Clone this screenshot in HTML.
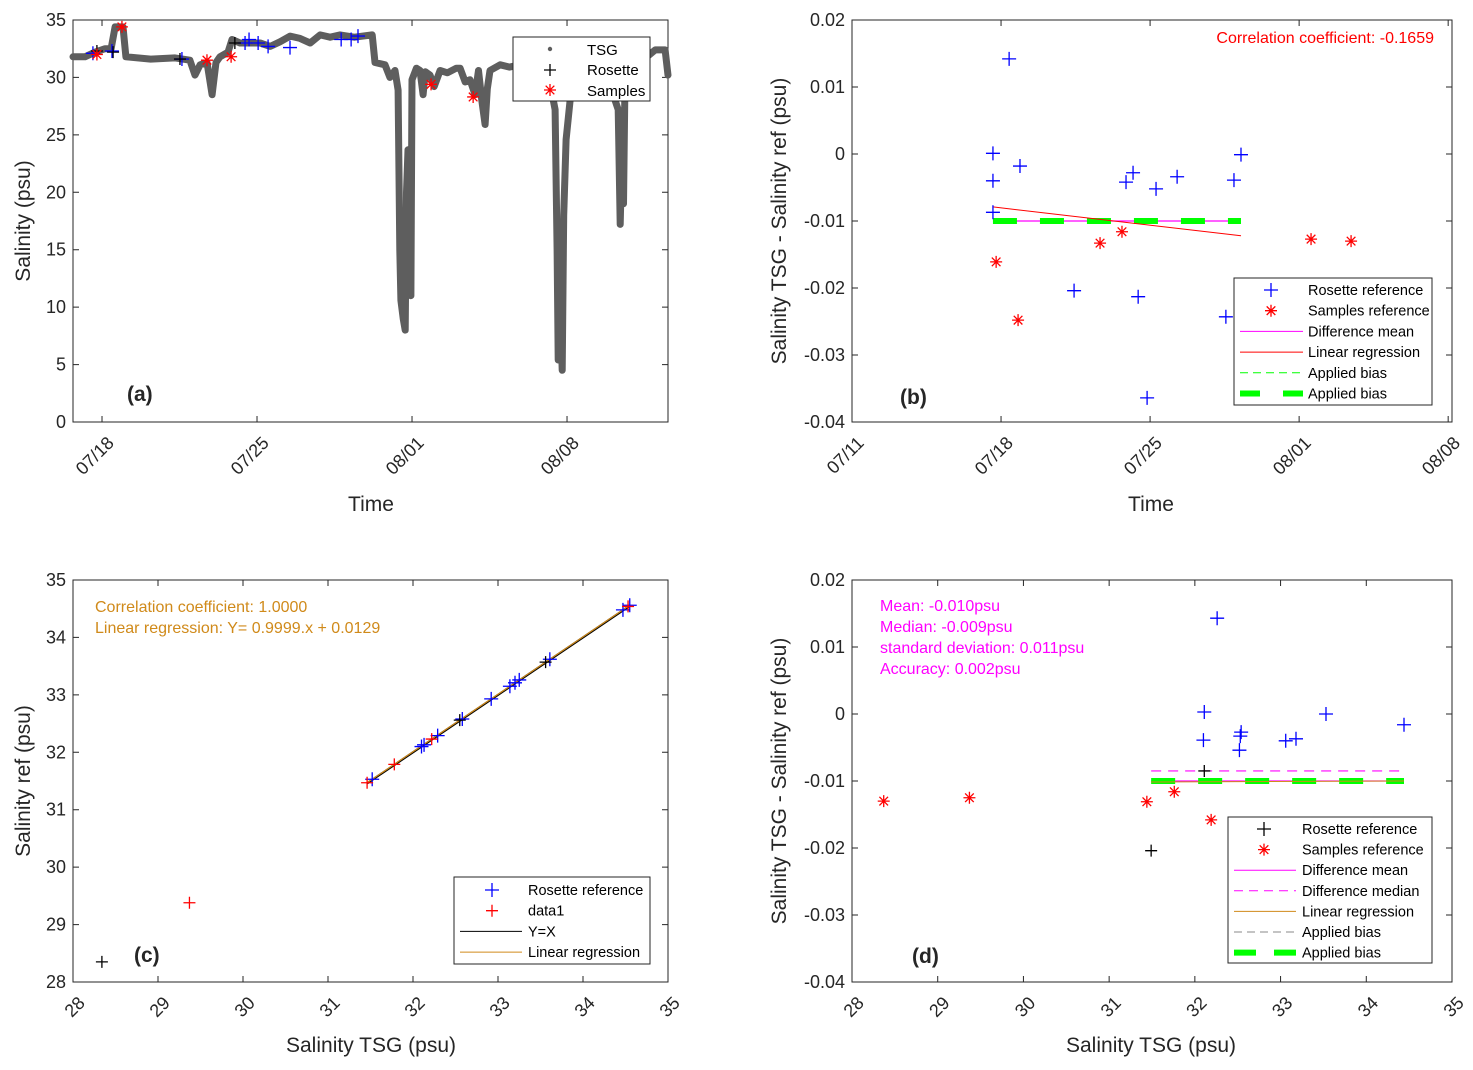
<!DOCTYPE html>
<html><head><meta charset="utf-8">
<style>
html,body{margin:0;padding:0;background:#fff;}
svg{display:block;font-family:"Liberation Sans",Arial,sans-serif;}
</style></head>
<body>
<svg id="fig" width="1473" height="1070" viewBox="0 0 1473 1070" xmlns="http://www.w3.org/2000/svg"></svg>
<script>
// ---------- DATA ----------
// Panel (a): TSG time series (days relative to 07/18)
const tsgDay = [-1.31,-0.77,-0.32,0.14,0.41,0.59,0.95,1.08,2.2,3.30,3.97,4.20,4.43,4.74,4.97,5.15,5.33,5.69,5.87,6.23,7.14,7.6,8.04,8.5,8.94,9.4,9.85,10.3,10.75,11.4,12.20,12.33,12.78,13.0,13.23,13.37,13.45,13.50,13.6,13.69,13.75,13.82,13.9,13.95,14.00,14.2,14.36,14.5,14.6,14.81,15.0,15.27,15.6,16.0,16.17,16.4,16.62,16.85,17.0,17.15,17.30,17.4,17.52,17.98,18.4,18.88,19.3,19.78,20.2,20.46,20.55,20.60,20.7,20.78,20.85,20.96,21.14,21.36,21.82,22.49,22.9,23.17,23.31,23.40,23.49,23.55,23.62,23.85,24.30,24.98,25.43,25.56];
const tsgSal = [31.8,31.8,32.2,32.5,32.5,34.4,34.4,31.8,31.6,31.7,31.5,30.2,31.1,31.3,28.5,31.3,31.8,32.2,33.3,33.0,33.0,32.7,33.1,33.6,33.4,33.0,33.7,33.5,33.7,33.5,33.7,31.3,31.1,30.0,30.6,28.9,15.0,10.6,9.0,8.0,20.0,23.7,12.0,11.0,29.8,30.8,30.6,28.5,30.5,30.2,29.2,30.6,30.4,30.8,30.8,29.6,29.8,28.5,30.6,28.0,25.9,29.0,30.6,31.1,30.9,31.1,30.8,30.6,29.8,27.2,15.0,5.4,10.0,4.5,18.0,24.6,28.0,29.8,30.2,30.2,29.0,28.0,27.2,17.2,24.6,19.0,29.8,30.8,31.3,32.4,32.4,30.2];
const rosADay = [-0.41,0.45,3.61,6.46,6.64,7.05,7.50,8.49,10.80,11.25,11.56];
const rosASal = [32.1,32.3,31.6,33.0,33.3,33.0,32.7,32.6,33.3,33.3,33.6];
const rosAkDay = [-0.23,0.50,3.52,6.00];
const rosAkSal = [32.3,32.2,31.6,33.0];
const smpADay = [-0.23,0.90,4.74,5.83,14.86,16.76];
const smpASal = [32.0,34.4,31.5,31.8,29.4,28.3];
const dateTicks = ["07/18","07/25","08/01","08/08"];
const dateTickDays = [0,7,14,21];
const salTicks = [0,5,10,15,20,25,30,35];
// Panel (b): differences vs time
const rosBDay = [-0.38,-0.38,0.38,0.89,3.43,5.87,6.20,6.44,6.86,7.28,8.27,10.94,11.27,10.56,-0.38];
const rosBVal = [0.0001,-0.0040,0.0142,-0.0018,-0.0204,-0.0042,-0.0028,-0.0213,-0.0364,-0.0052,-0.0034,-0.0039,-0.0001,-0.0243,-0.0087];
const smpBDay = [-0.23,0.80,4.65,5.68,14.56,16.44];
const smpBVal = [-0.0161,-0.0248,-0.0133,-0.0116,-0.0127,-0.0130];
const meanDiff = -0.0100;
const medianDiff = -0.0085;
const regBDay = [-0.38,11.27];
const regBVal = [-0.0079,-0.0122];
const dateTicksB = ["07/11","07/18","07/25","08/01","08/08"];
const dateTickDaysB = [-7,0,7,14,21];
const diffTicks = [0.02,0.01,0,-0.01,-0.02,-0.03,-0.04];
const diffTickLabels = ["0.02","0.01","0","-0.01","-0.02","-0.03","-0.04"];
// Panel (c): ref vs TSG
const rosCTsg = [31.52,32.13,32.10,32.29,32.58,32.92,33.14,33.25,33.61,34.55,34.47,33.20];
const rosCRef = [31.53,32.13,32.10,32.29,32.58,32.93,33.15,33.26,33.62,34.56,34.48,33.21];
const redCTsg = [31.46,31.78,32.22,34.53,29.37];
const redCRef = [31.47,31.79,32.23,34.54,29.38];
const blkCTsg = [28.34,33.56,32.55];
const blkCRef = [28.35,33.57,32.56];
const regCTsg = [31.46,34.55];
const psuTicks = [28,29,30,31,32,33,34,35];
// Panel (d): differences vs TSG
const rosDTsg = [32.26,32.11,32.10,32.54,32.53,32.52,33.06,33.18,33.53,34.44];
const rosDVal = [0.0143,0.0003,-0.0039,-0.0027,-0.0033,-0.0054,-0.0040,-0.0037,0.0000,-0.0016];
const blkDTsg = [32.11,31.49];
const blkDVal = [-0.0085,-0.0204];
const smpDTsg = [31.44,31.76,32.19,28.37,29.37];
const smpDVal = [-0.0131,-0.0116,-0.0158,-0.0130,-0.0125];
const lineDTsg = [31.49,34.44];

// ---------- HELPERS ----------
const NS = "http://www.w3.org/2000/svg";
const svg = document.getElementById('fig');
function mk(tag, attrs, name, parent) {
  const e = document.createElementNS(NS, tag);
  for (const k in attrs) e.setAttribute(k, attrs[k]);
  
  
  (parent || svg).appendChild(e);
  return e;
}
function txt(x, y, s, attrs, name, parent) {
  const e = mk('text', Object.assign({x: x, y: y}, attrs), name, parent);
  e.textContent = s;
  return e;
}
function axis(x0, x1, y0, y1, xmin, xmax, ymin, ymax) {
  return {x0, x1, y0, y1,
    sx: v => x0 + (v - xmin) / (xmax - xmin) * (x1 - x0),
    sy: v => y1 - (v - ymin) / (ymax - ymin) * (y1 - y0)};
}
function plus(g, x, y, c, r, name) {
  mk('path', {d:`M${x-r},${y}H${x+r}M${x},${y-r}V${y+r}`, stroke:c, 'stroke-width':1.3, fill:'none'}, name, g);
}
function star(g, x, y, c, r, name) {
  const d = r*0.72;
  mk('path', {d:`M${x-r},${y}H${x+r}M${x},${y-r}V${y+r}M${x-d},${y-d}L${x+d},${y+d}M${x-d},${y+d}L${x+d},${y-d}`, stroke:c, 'stroke-width':1.3, fill:'none'}, name, g);
}
function frame(ax, name, xt, yt, xlabels, ylabels) {
  const g = mk('g', {}, name);
  mk('rect', {x:ax.x0, y:ax.y0, width:ax.x1-ax.x0, height:ax.y1-ax.y0, fill:'none', stroke:'#262626', 'stroke-width':1}, 'plot-frame', g);
  xt.forEach((v, i) => {
    const x = ax.sx(v);
    mk('path', {d:`M${x},${ax.y1}V${ax.y1-6}M${x},${ax.y0}V${ax.y0+6}`, stroke:'#262626'}, 'x-tick', g);
    txt(x+13, ax.y1+22, xlabels[i], {'font-size':18, fill:'#262626', 'text-anchor':'end', transform:`rotate(-45 ${x+13} ${ax.y1+22})`}, 'x-tick-label', g);
  });
  yt.forEach((v, i) => {
    const y = ax.sy(v);
    mk('path', {d:`M${ax.x0},${y}H${ax.x0+6}M${ax.x1},${y}H${ax.x1-6}`, stroke:'#262626'}, 'y-tick', g);
    txt(ax.x0-7, y+6, ylabels[i], {'font-size':18, fill:'#262626', 'text-anchor':'end'}, 'y-tick-label', g);
  });
  return g;
}
function legend(x, y, w, h, name) {
  const g = mk('g', {}, name);
  mk('rect', {x, y, width:w, height:h, fill:'#fff', stroke:'#262626'}, 'legend-box', g);
  return g;
}

// ---------- PANEL A ----------
const A = axis(73, 668, 20, 422, -1.31, 25.56, 0, 35);
const gA = frame(A, 'panel-a', dateTickDays, salTicks, dateTicks, salTicks.map(String));
let dA = tsgDay.map((d, i) => (i ? 'L' : 'M') + A.sx(d).toFixed(1) + ',' + A.sy(tsgSal[i]).toFixed(1)).join('');
mk('path', {d:dA, stroke:'#5e5e5e', 'stroke-width':7, fill:'none', 'stroke-linejoin':'round', 'stroke-linecap':'round'}, 'tsg-series', gA);
rosADay.forEach((d, i) => plus(gA, A.sx(d), A.sy(rosASal[i]), '#0000ff', 7, 'rosette-point'));
rosAkDay.forEach((d, i) => plus(gA, A.sx(d), A.sy(rosAkSal[i]), '#000', 6, 'rosette-point-black'));
smpADay.forEach((d, i) => star(gA, A.sx(d), A.sy(smpASal[i]), '#ff0000', 6, 'sample-point'));
txt(127, 401, '(a)', {'font-size':21, 'font-weight':'bold', fill:'#262626'}, 'panel-label-a', gA);
txt(371, 511, 'Time', {'font-size':21, fill:'#262626', 'text-anchor':'middle'}, 'x-axis-title-a', gA);
txt(30, 221, 'Salinity (psu)', {'font-size':21, fill:'#262626', 'text-anchor':'middle', transform:'rotate(-90 30 221)'}, 'y-axis-title-a', gA);
const lA = legend(513, 37, 137, 64, 'legend-a');
mk('circle', {cx:550, cy:49, r:2.2, fill:'#5e5e5e'}, 'legend-marker-tsg', lA);
txt(587, 55, 'TSG', {'font-size':15, fill:'#000'}, 'legend-label-tsg', lA);
plus(lA, 550, 70, '#000', 6, 'legend-marker-rosette');
txt(587, 75, 'Rosette', {'font-size':15, fill:'#000'}, 'legend-label-rosette', lA);
star(lA, 550, 90, '#ff0000', 6, 'legend-marker-samples');
txt(587, 96, 'Samples', {'font-size':15, fill:'#000'}, 'legend-label-samples', lA);

// ---------- PANEL B ----------
const B = axis(852, 1452, 20, 422, -7, 21.18, -0.04, 0.02);
const gB = frame(B, 'panel-b', dateTickDaysB, diffTicks, dateTicksB, diffTickLabels);
mk('line', {x1:B.sx(regBDay[0]), x2:B.sx(regBDay[1]), y1:B.sy(meanDiff), y2:B.sy(meanDiff), stroke:'#ff00ff', 'stroke-width':1.2}, 'difference-mean-line', gB);
mk('line', {x1:B.sx(regBDay[0]), x2:B.sx(regBDay[1]), y1:B.sy(meanDiff), y2:B.sy(meanDiff), stroke:'#00ff00', 'stroke-width':6, 'stroke-dasharray':'24 23'}, 'applied-bias-line', gB);
mk('line', {x1:B.sx(regBDay[0]), x2:B.sx(regBDay[1]), y1:B.sy(regBVal[0]), y2:B.sy(regBVal[1]), stroke:'#ff0000', 'stroke-width':1}, 'linear-regression-line', gB);
rosBDay.forEach((d, i) => plus(gB, B.sx(d), B.sy(rosBVal[i]), '#0000ff', 7, 'rosette-reference-point'));
smpBDay.forEach((d, i) => star(gB, B.sx(d), B.sy(smpBVal[i]), '#ff0000', 6, 'samples-reference-point'));
txt(1434, 43, 'Correlation coefficient: -0.1659', {'font-size':16, fill:'#ff0000', 'text-anchor':'end'}, 'correlation-annotation-b', gB);
txt(900, 404, '(b)', {'font-size':21, 'font-weight':'bold', fill:'#262626'}, 'panel-label-b', gB);
txt(1151, 511, 'Time', {'font-size':21, fill:'#262626', 'text-anchor':'middle'}, 'x-axis-title-b', gB);
txt(786, 221, 'Salinity TSG - Salinity ref (psu)', {'font-size':21, fill:'#262626', 'text-anchor':'middle', transform:'rotate(-90 786 221)'}, 'y-axis-title-b', gB);
const lB = legend(1234, 278, 198, 127, 'legend-b');
const lbRows = ['Rosette reference','Samples reference','Difference mean','Linear regression','Applied bias','Applied bias'];
lbRows.forEach((s, i) => {
  const y = 290 + i*20.7;
  if (i === 0) plus(lB, 1271, y, '#0000ff', 7, 'legend-marker');
  if (i === 1) star(lB, 1271, y, '#ff0000', 6, 'legend-marker');
  if (i === 2) mk('line', {x1:1240, x2:1303, y1:y, y2:y, stroke:'#ff00ff'}, 'legend-line', lB);
  if (i === 3) mk('line', {x1:1240, x2:1303, y1:y, y2:y, stroke:'#ff0000'}, 'legend-line', lB);
  if (i === 4) mk('line', {x1:1240, x2:1303, y1:y, y2:y, stroke:'#00ff00', 'stroke-dasharray':'8 5'}, 'legend-line', lB);
  if (i === 5) mk('line', {x1:1240, x2:1303, y1:y, y2:y, stroke:'#00ff00', 'stroke-width':6, 'stroke-dasharray':'20 23'}, 'legend-line', lB);
  txt(1308, y+5, s, {'font-size':14.5, fill:'#000'}, 'legend-label', lB);
});

// ---------- PANEL C ----------
const C = axis(73, 668, 580, 982, 28, 35, 28, 35);
const gC = frame(C, 'panel-c', psuTicks, psuTicks, psuTicks.map(String), psuTicks.map(String));
mk('line', {x1:C.sx(regCTsg[0]), x2:C.sx(regCTsg[1]), y1:C.sy(regCTsg[0]), y2:C.sy(regCTsg[1]), stroke:'#000', 'stroke-width':2.2}, 'y-equals-x-line', gC);
mk('line', {x1:C.sx(regCTsg[0]), x2:C.sx(regCTsg[1]), y1:C.sy(0.9999*regCTsg[0]+0.0129), y2:C.sy(0.9999*regCTsg[1]+0.0129), stroke:'#d08a1a', 'stroke-width':1.2}, 'linear-regression-line', gC);
rosCTsg.forEach((v, i) => plus(gC, C.sx(v), C.sy(rosCRef[i]), '#0000ff', 7, 'rosette-reference-point'));
redCTsg.forEach((v, i) => plus(gC, C.sx(v), C.sy(redCRef[i]), '#ff0000', 6, 'data1-point'));
blkCTsg.forEach((v, i) => plus(gC, C.sx(v), C.sy(blkCRef[i]), '#000', 6, 'rosette-point-black'));
txt(95, 612, 'Correlation coefficient: 1.0000', {'font-size':16, fill:'#d08a1a'}, 'correlation-annotation-c', gC);
txt(95, 633, 'Linear regression: Y= 0.9999.x + 0.0129', {'font-size':16, fill:'#d08a1a'}, 'regression-annotation-c', gC);
txt(134, 962, '(c)', {'font-size':21, 'font-weight':'bold', fill:'#262626'}, 'panel-label-c', gC);
txt(371, 1052, 'Salinity TSG (psu)', {'font-size':21, fill:'#262626', 'text-anchor':'middle'}, 'x-axis-title-c', gC);
txt(30, 781, 'Salinity ref (psu)', {'font-size':21, fill:'#262626', 'text-anchor':'middle', transform:'rotate(-90 30 781)'}, 'y-axis-title-c', gC);
const lC = legend(454, 877, 196, 87, 'legend-c');
['Rosette reference','data1','Y=X','Linear regression'].forEach((s, i) => {
  const y = 890 + i*20.7;
  if (i === 0) plus(lC, 492, y, '#0000ff', 7, 'legend-marker');
  if (i === 1) plus(lC, 492, y, '#ff0000', 6, 'legend-marker');
  if (i === 2) mk('line', {x1:460, x2:522, y1:y, y2:y, stroke:'#000'}, 'legend-line', lC);
  if (i === 3) mk('line', {x1:460, x2:522, y1:y, y2:y, stroke:'#d08a1a'}, 'legend-line', lC);
  txt(528, y+5, s, {'font-size':14.5, fill:'#000'}, 'legend-label', lC);
});

// ---------- PANEL D ----------
const D = axis(852, 1452, 580, 982, 28, 35, -0.04, 0.02);
const gD = frame(D, 'panel-d', psuTicks, diffTicks, psuTicks.map(String), diffTickLabels);
const dx0 = D.sx(lineDTsg[0]), dx1 = D.sx(lineDTsg[1]);
mk('line', {x1:dx0, x2:dx1, y1:D.sy(medianDiff), y2:D.sy(medianDiff), stroke:'#ff00ff', 'stroke-width':1.2, 'stroke-dasharray':'10 7'}, 'difference-median-line', gD);
mk('line', {x1:dx0, x2:dx1, y1:D.sy(meanDiff), y2:D.sy(meanDiff), stroke:'#ff00ff', 'stroke-width':1.2}, 'difference-mean-line', gD);
mk('line', {x1:dx0, x2:dx1, y1:D.sy(meanDiff), y2:D.sy(meanDiff), stroke:'#00ff00', 'stroke-width':6, 'stroke-dasharray':'24 23'}, 'applied-bias-line', gD);
mk('line', {x1:dx0, x2:dx1, y1:D.sy(meanDiff)+1, y2:D.sy(meanDiff), stroke:'#d08a1a', 'stroke-width':1}, 'linear-regression-line', gD);
rosDTsg.forEach((v, i) => plus(gD, D.sx(v), D.sy(rosDVal[i]), '#0000ff', 7, 'rosette-reference-point'));
blkDTsg.forEach((v, i) => plus(gD, D.sx(v), D.sy(blkDVal[i]), '#000', 6, 'rosette-point-black'));
smpDTsg.forEach((v, i) => star(gD, D.sx(v), D.sy(smpDVal[i]), '#ff0000', 6, 'samples-reference-point'));
['Mean: -0.010psu','Median: -0.009psu','standard deviation: 0.011psu','Accuracy: 0.002psu'].forEach((s, i) => {
  txt(880, 611 + i*21, s, {'font-size':16, fill:'#ff00ff'}, 'stats-annotation', gD);
});
txt(912, 963, '(d)', {'font-size':21, 'font-weight':'bold', fill:'#262626'}, 'panel-label-d', gD);
txt(1151, 1052, 'Salinity TSG (psu)', {'font-size':21, fill:'#262626', 'text-anchor':'middle'}, 'x-axis-title-d', gD);
txt(786, 781, 'Salinity TSG - Salinity ref (psu)', {'font-size':21, fill:'#262626', 'text-anchor':'middle', transform:'rotate(-90 786 781)'}, 'y-axis-title-d', gD);
const lD = legend(1228, 817, 204, 146, 'legend-d');
['Rosette reference','Samples reference','Difference mean','Difference median','Linear regression','Applied bias','Applied bias'].forEach((s, i) => {
  const y = 829 + i*20.6;
  if (i === 0) plus(lD, 1264, y, '#000', 7, 'legend-marker');
  if (i === 1) star(lD, 1264, y, '#ff0000', 6, 'legend-marker');
  if (i === 2) mk('line', {x1:1234, x2:1296, y1:y, y2:y, stroke:'#ff00ff'}, 'legend-line', lD);
  if (i === 3) mk('line', {x1:1234, x2:1296, y1:y, y2:y, stroke:'#ff00ff', 'stroke-dasharray':'9 6'}, 'legend-line', lD);
  if (i === 4) mk('line', {x1:1234, x2:1296, y1:y, y2:y, stroke:'#d08a1a'}, 'legend-line', lD);
  if (i === 5) mk('line', {x1:1234, x2:1296, y1:y, y2:y, stroke:'#888', 'stroke-dasharray':'8 5'}, 'legend-line', lD);
  if (i === 6) mk('line', {x1:1234, x2:1296, y1:y, y2:y, stroke:'#00ff00', 'stroke-width':6, 'stroke-dasharray':'22 18'}, 'legend-line', lD);
  txt(1302, y+5, s, {'font-size':14.5, fill:'#000'}, 'legend-label', lD);
});
</script>
</body></html>
